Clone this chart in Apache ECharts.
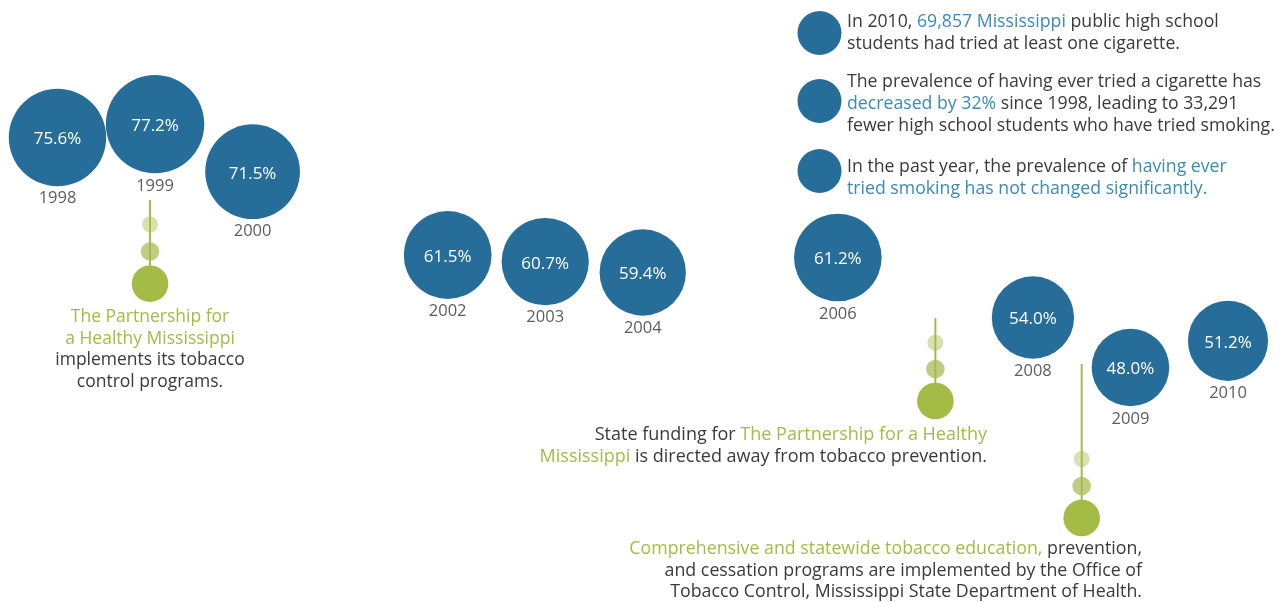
<!DOCTYPE html>
<html><head><meta charset="utf-8">
<script src="https://cdn.jsdelivr.net/npm/echarts@6/dist/echarts.min.js"></script>
<style>html,body{margin:0;padding:0;background:#fff}#c{width:1285px;height:602px}</style>
</head><body><div id="c"></div>
<script>
// ---- data ----
const years = [1998, 1999, 2000, 2002, 2003, 2004, 2006, 2008, 2009, 2010];
const values = [75.6, 77.2, 71.5, 61.5, 60.7, 59.4, 61.2, 54.0, 48.0, 51.2];
const eventYears = [1999, 2007, 2008.5];
const eventTexts = [
  '{g|The Partnership for}\n{g|a Healthy Mississippi}\nimplements its tobacco\ncontrol programs.',
  'State funding for {g|The Partnership for a Healthy}\n{g|Mississippi} is directed away from tobacco prevention.',
  '{g|Comprehensive and statewide tobacco education,} prevention,\nand cessation programs are implemented by the Office of\nTobacco Control, Mississippi State Department of Health.'
];
const infoTexts = [
  'In 2010, {b|69,857 Mississippi} public high school\nstudents had tried at least one cigarette.',
  'The prevalence of having ever tried a cigarette has\n{b|decreased by 32%} since 1998, leading to 33,291\nfewer high school students who have tried smoking.',
  'In the past year, the prevalence of {b|having ever}\n{b|tried smoking has not changed significantly.}'
];

// ---- styles / layout ----
const BLUE = '#266e99';
const GREEN = '#a4bc46';
const LIGHT1 = '#d8e2b1';
const LIGHT2 = '#bfcd84';
const GRAY = '#3a3a3a';
const HBLUE = '#3b8bb1';
const FONT = '"Open Sans", Lato, sans-serif';

const eventLayout = [
  {dx: -5, top: 200, s1: 224.5, s2: 251.5, big: 283.7},
  {dx: 0, top: 318, s1: 342.7, s2: 369, big: 401},
  {dx: 0, top: 364, s1: 459, s2: 486, big: 518}
];
const eventTextPos = [
  {x: 150, y: 306, align: 'center', size: 17.5},
  {x: 987, y: 424, align: 'right', size: 18},
  {x: 1142, y: 538, align: 'right', size: 17.8}
];
const infoPos = [{cy: 33, y: 11}, {cy: 101, y: 71}, {cy: 171, y: 156}];

const pts = years.map((y, i) => [y, values[i]]);

const graphics = [];
infoPos.forEach((p, i) => {
  graphics.push({type: 'circle', shape: {cx: 819.5, cy: p.cy, r: 22}, style: {fill: BLUE}});
  graphics.push({type: 'text', x: 847, y: p.y, style: {
    text: infoTexts[i], fill: GRAY, font: '17.7px ' + FONT, lineHeight: 22,
    align: 'left', verticalAlign: 'top',
    rich: {b: {fill: HBLUE, font: '17.7px ' + FONT, lineHeight: 22}}
  }});
});
eventTextPos.forEach((p, i) => {
  graphics.push({type: 'text', x: p.x, y: p.y, style: {
    text: eventTexts[i], fill: GRAY, font: p.size + 'px ' + FONT, lineHeight: 21.7,
    align: p.align, verticalAlign: 'top',
    rich: {g: {fill: GREEN, font: p.size + 'px ' + FONT, lineHeight: 21.7}}
  }});
});

const chart = echarts.init(document.getElementById('c'), null, {renderer: 'canvas'});
chart.setOption({
  animation: false,
  backgroundColor: '#fff',
  grid: {left: 8.73, right: 8.23, top: 17.5, bottom: 84.5},
  xAxis: {type: 'value', min: 1997.5, max: 2010.5, show: false},
  yAxis: {type: 'value', min: 30, max: 90, show: false},
  graphic: graphics,
  series: [
    {
      type: 'custom',
      data: eventYears.map(y => [y]),
      encode: {x: 0},
      z: 1,
      renderItem: function (params, api) {
        const L = eventLayout[params.dataIndex];
        const x = api.coord([api.value(0), 60])[0] + L.dx;
        return {type: 'group', children: [
          {type: 'circle', shape: {cx: x, cy: L.s1, r: 8}, style: {fill: LIGHT1}},
          {type: 'circle', shape: {cx: x, cy: L.s2, r: 9.3}, style: {fill: LIGHT2}},
          {type: 'line', shape: {x1: x, y1: L.top, x2: x, y2: L.big}, style: {stroke: GREEN, lineWidth: 2}},
          {type: 'circle', shape: {cx: x, cy: L.big, r: 18.3}, style: {fill: GREEN}}
        ]};
      }
    },
    {
      type: 'scatter',
      data: pts,
      z: 3,
      symbolSize: d => 11.2 * Math.sqrt(d[1]),
      itemStyle: {color: BLUE, opacity: 1},
      label: {show: true, position: 'inside', color: '#fff', fontSize: 17, fontFamily: FONT,
        offset: [0, 2], formatter: p => p.value[1].toFixed(1) + '%'},
      emphasis: {disabled: true}
    },
    {
      type: 'scatter',
      data: pts,
      z: 2,
      symbolSize: d => 11.2 * Math.sqrt(d[1]),
      itemStyle: {color: 'rgba(0,0,0,0)'},
      label: {show: true, position: 'bottom', distance: 4, color: '#333', fontSize: 16.5, fontFamily: FONT,
        formatter: p => String(p.value[0])},
      emphasis: {disabled: true}
    }
  ]
});
</script>
</body></html>
